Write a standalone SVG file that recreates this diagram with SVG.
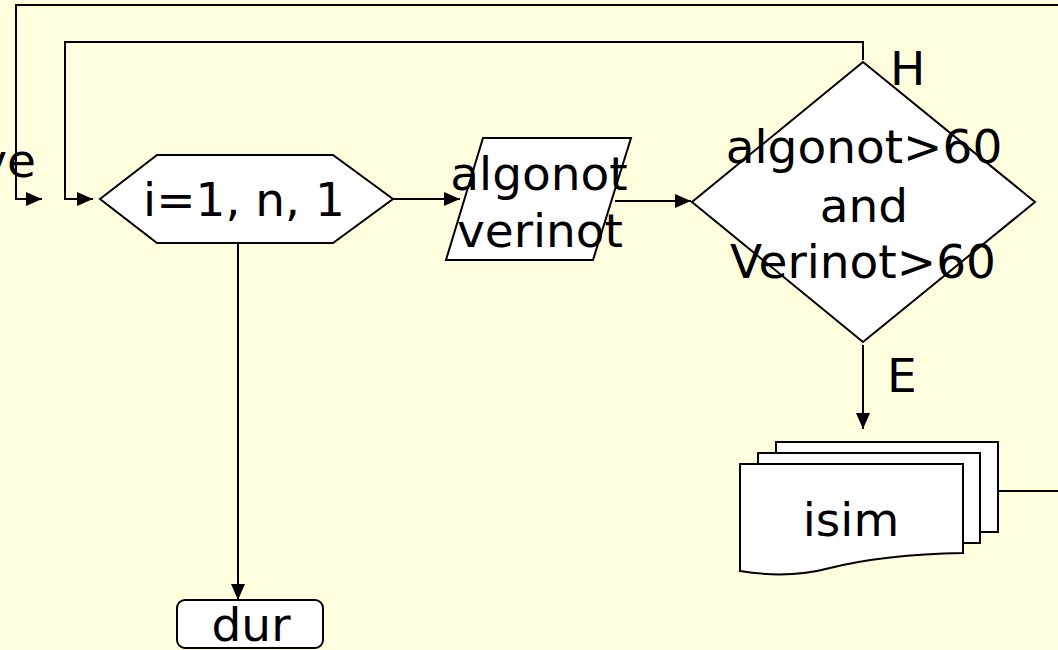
<svg xmlns="http://www.w3.org/2000/svg" width="1058" height="650" viewBox="0 0 1058 650">
<style>
.shape{fill:#fff;stroke:#000;stroke-width:2}
.ln{fill:none;stroke:#000;stroke-width:2}
text{font-family:"DejaVu Sans",Verdana,sans-serif;font-size:47px;fill:#000}
.c{text-anchor:middle}
</style>
<defs>
<marker id="ah" markerUnits="userSpaceOnUse" markerWidth="18" markerHeight="16" refX="16" refY="7" orient="auto">
<path d="M0,0 L16,7 L0,14 Z" fill="#000"/>
</marker>
</defs>
<rect width="1058" height="650" fill="#FFFFE0"/>
<g id="connectors">
<path class="ln" d="M1060,5 H16 V199 H42" marker-end="url(#ah)"/>
<path class="ln" d="M863,60 V42 H65 V199 H93" marker-end="url(#ah)"/>
<path class="ln" d="M393,199 H460" marker-end="url(#ah)"/>
<path class="ln" d="M615,201 H691" marker-end="url(#ah)"/>
<path class="ln" d="M863,345 V429" marker-end="url(#ah)"/>
<path class="ln" d="M238,243 V600" marker-end="url(#ah)"/>
<path class="ln" d="M998,491 H1060"/>
<text x="890" y="85">H</text>
<text x="887" y="392">E</text>
</g>
<g id="left-label">
<text x="36" y="177" text-anchor="end">ve</text>
</g>
<g id="loop">
<polygon class="shape" points="100,199 157,155 333,155 393,199 333,243 157,243"/>
<text class="c" x="244" y="216">i=1, n, 1</text>
</g>
<g id="input">
<polygon class="shape" points="483,138 631,138 593,260 446,260"/>
<text class="c" x="539" y="190">algonot</text>
<text class="c" x="540" y="247">verinot</text>
</g>
<g id="decision">
<polygon class="shape" points="863,62 1035,202 863,342 692,202"/>
<text class="c" x="864" y="163">algonot&gt;60</text>
<text class="c" x="864" y="222">and</text>
<text class="c" x="863" y="278">Verinot&gt;60</text>
</g>
<g id="output">
<rect class="shape" x="776" y="442" width="222" height="90"/>
<rect class="shape" x="758" y="453" width="222" height="90"/>
<path class="shape" d="M740,464 H963 V553 C910,554 870,558 830,568 C800,576 770,576 740,571 Z"/>
<text class="c" x="851" y="536">isim</text>
</g>
<g id="end">
<rect class="shape" x="177" y="600" width="146" height="48" rx="8"/>
<text class="c" x="251" y="641">dur</text>
</g>
</svg>
